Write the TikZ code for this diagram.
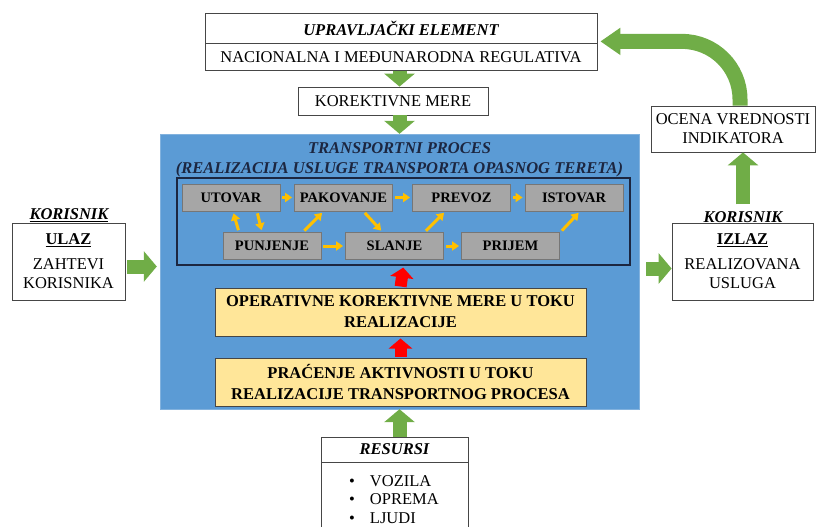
\documentclass[tikz,border=0pt]{standalone}
\usepackage{fontspec}
\setmainfont{Liberation Serif}
\usetikzlibrary{arrows.meta}
\definecolor{procblue}{RGB}{91,155,213}
\definecolor{procedge}{RGB}{130,178,222}
\definecolor{navy}{RGB}{28,38,64}
\definecolor{boxgray}{RGB}{166,166,166}
\definecolor{graydark}{RGB}{118,118,118}
\definecolor{gold}{RGB}{255,230,153}
\definecolor{arrgreen}{RGB}{112,173,71}
\definecolor{arryellow}{RGB}{255,192,0}
\definecolor{frame}{RGB}{70,70,70}

\begin{document}
\begin{tikzpicture}[x=1pt,y=-1pt,
  every node/.style={font=\fontsize{16.5}{19}\selectfont, inner sep=0pt},
  box/.style={draw=frame, line width=0.8pt, fill=white, align=center},
  phase/.style={draw=graydark, line width=0.8pt, fill=boxgray, minimum width=98pt, minimum height=27pt, font=\fontsize{14.5}{16}\selectfont\bfseries},
  note/.style={draw=frame, line width=1pt, fill=gold, minimum width=371pt, minimum height=48pt, align=center, font=\fontsize{16.5}{21}\selectfont\bfseries},
  big/.style={-{Triangle[width=30pt,length=13pt]}, line width=14pt, arrgreen},
  small/.style={-{Triangle[width=9pt,length=7pt]}, line width=3pt, arryellow, shorten <=2pt, shorten >=2pt},
  hot/.style={-{Triangle[width=23pt,length=10pt]}, line width=12pt, red, shorten <=1pt, shorten >=2pt}]
\useasboundingbox (0,0) rectangle (816,527);

\node[box, minimum width=392pt, minimum height=30pt, font=\fontsize{16.5}{19}\selectfont\bfseries\itshape] (upr) at (401,28) {UPRAVLJAČKI ELEMENT};
\node[box, minimum width=392pt, minimum height=27pt, anchor=north] (reg) at (upr.south) {NACIONALNA I MEĐUNARODNA REGULATIVA};
\node[box, minimum width=190pt, minimum height=28pt] (kor) at (393,101) {KOREKTIVNE MERE};

\node[draw=procedge, fill=procblue, minimum width=479pt, minimum height=275pt] (proc) at (399.5,271.5) {};
\node[text=navy, align=center, font=\fontsize{16.5}{20}\selectfont\bfseries\itshape] (naslov) at (399.5,160) {TRANSPORTNI PROCES\\(REALIZACIJA USLUGE TRANSPORTA OPASNOG TERETA)};
\node[draw=navy, line width=1.2pt, minimum width=453pt, minimum height=87pt] (faze) at (403.5,221.5) {};

\node[phase] (utovar) at (231,197.5) {UTOVAR};
\node[phase] (pakovanje) at (343.5,197.5) {PAKOVANJE};
\node[phase] (prevoz) at (461.5,197.5) {PREVOZ};
\node[phase] (istovar) at (574,197.5) {ISTOVAR};
\node[phase] (punjenje) at (272,246) {PUNJENJE};
\node[phase] (slanje) at (394.5,246) {SLANJE};
\node[phase] (prijem) at (510.5,246) {PRIJEM};

\node[note] (oper) at (400.5,312) {OPERATIVNE KOREKTIVNE MERE U TOKU\\REALIZACIJE};
\node[note] (prac) at (400.5,382) {PRAĆENJE AKTIVNOSTI U TOKU\\REALIZACIJE TRANSPORTNOG PROCESA};

\node[box, minimum width=147pt, minimum height=25pt, font=\fontsize{16.5}{19}\selectfont\bfseries\itshape] (res) at (394.5,449.5) {RESURSI};
\node[box, minimum width=147pt, minimum height=80pt, anchor=north] (sredstva) at (res.south) {};
\node[anchor=north west, align=left, font=\fontsize{16.5}{18.5}\selectfont] (lista) at (349,475) {\textbullet\hspace{15pt}VOZILA\\\textbullet\hspace{15pt}OPREMA\\\textbullet\hspace{15pt}LJUDI};

\node[font=\fontsize{16.5}{19}\selectfont\bfseries\itshape] (korUlaz) at (69,215) {\underline{KORISNIK}};
\node[box, minimum width=113pt, minimum height=77pt] (ulaz) at (68.5,261.5) {\underline{\textbf{ULAZ}}\\[6pt]ZAHTEVI\\KORISNIKA};
\node[font=\fontsize{16.5}{19}\selectfont\bfseries\itshape] (korIzlaz) at (743,218) {\underline{KORISNIK}};
\node[box, minimum width=141pt, minimum height=77pt] (izlaz) at (742.5,261.5) {\underline{\textbf{IZLAZ}}\\[6pt]REALIZOVANA\\USLUGA};
\node[box, minimum width=164pt, minimum height=46pt] (ocena) at (733,129) {OCENA VREDNOSTI\\INDIKATORA};

\draw[big] (reg.south -| proc.north) -- (kor.north -| proc.north);
\draw[big] (kor.south -| proc.north) -- (proc.north);
\draw[big] (res.north -| proc.south) -- (proc.south);
\draw[big, shorten <=2pt, shorten >=3pt] ([yshift=-5pt]ulaz.east) -- ([yshift=-5pt]ulaz.east -| proc.west);
\draw[big, shorten <=7pt] ([yshift=-7pt]izlaz.west -| proc.east) -- ([yshift=-7pt]izlaz.west);
\draw[big, shorten <=7pt] (korIzlaz.north) -- (korIzlaz.north |- ocena.south);
\draw[big, -{Triangle[width=26pt,length=20pt]}, line width=15pt, rounded corners=58pt] ([xshift=7pt]ocena.north) |- ([xshift=3pt,yshift=2pt]upr.south east);

\draw[hot] (oper.north) -- (faze.south);
\draw[hot] (prac.north) -- (oper.south);

\draw[small] (utovar) -- (pakovanje);
\draw[small] (pakovanje) -- (prevoz);
\draw[small] (prevoz) -- (istovar);
\draw[small] (punjenje) -- (slanje);
\draw[small] (slanje) -- (prijem);
\draw[small] ([xshift=-33pt]punjenje.north) -- ([xshift=2pt]utovar.south);
\draw[small] ([xshift=26pt]utovar.south) -- ([xshift=-10pt]punjenje.north);
\draw[small] ([xshift=31pt]punjenje.north) -- ([xshift=-20pt]pakovanje.south);
\draw[small] ([xshift=20pt]pakovanje.south) -- ([xshift=-12pt]slanje.north);
\draw[small] ([xshift=30pt]slanje.north) -- ([xshift=-16pt]prevoz.south);
\draw[small] ([xshift=50pt]prijem.north) -- ([xshift=6pt]istovar.south);
\end{tikzpicture}
\end{document}
